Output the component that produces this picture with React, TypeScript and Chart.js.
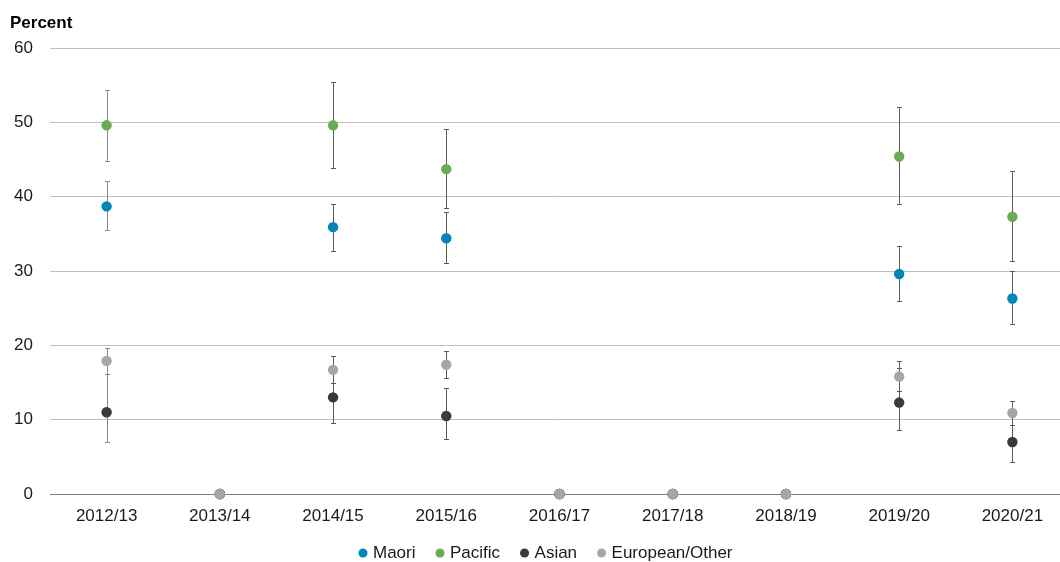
import { useEffect, useRef } from 'react';
import { Chart, registerables } from 'chart.js';

Chart.register(...registerables);

const categories = ['2012/13', '2013/14', '2014/15', '2015/16', '2016/17', '2017/18', '2018/19', '2019/20', '2020/21'];
const seriesNames = ['Maori', 'Pacific', 'Asian', 'European/Other'];

const maori = [38.7, 0, 35.9, 34.4, 0, 0, 0, 29.6, 26.3];
const maoriLow = [35.5, null, 32.7, 31.1, null, null, null, 26.0, 22.9];
const maoriHigh = [42.1, null, 39.0, 37.9, null, null, null, 33.4, 30.0];

const pacific = [49.6, 0, 49.6, 43.7, 0, 0, 0, 45.4, 37.3];
const pacificLow = [44.8, null, 43.8, 38.5, null, null, null, 39.0, 31.3];
const pacificHigh = [54.4, null, 55.4, 49.1, null, null, null, 52.0, 43.5];

const asian = [11.0, 0, 13.0, 10.5, 0, 0, 0, 12.3, 7.0];
const asianLow = [7.0, null, 9.5, 7.4, null, null, null, 8.6, 4.3];
const asianHigh = [16.2, null, 15.0, 14.2, null, null, null, 16.9, 9.3];

const european = [17.9, 0, 16.7, 17.4, 0, 0, 0, 15.8, 10.9];
const europeanLow = [16.2, null, 15.0, 15.6, null, null, null, 13.9, 9.3];
const europeanHigh = [19.7, null, 18.6, 19.2, null, null, null, 17.9, 12.5];

const yTicks = [0, 10, 20, 30, 40, 50, 60];

const seriesValues = [maori, pacific, asian, european];
const lows = [maoriLow, pacificLow, asianLow, europeanLow];
const highs = [maoriHigh, pacificHigh, asianHigh, europeanHigh];
const colors = ['#0087B5', '#6AAB55', '#393B36', '#A6A6A6'];
const errColors = ['#8a8a8a', '#5a5a5a', '#5a5a5a', '#5a5a5a', '#5a5a5a', '#5a5a5a', '#5a5a5a', '#5a5a5a', '#5a5a5a'];

const FONT = '"Liberation Sans", Arial, Helvetica, sans-serif';

const errorBarPlugin = {
  id: 'errorBars',
  beforeDatasetsDraw(chart: any) {
    const { ctx } = chart;
    const xs = chart.scales.x;
    const ys = chart.scales.y;
    ctx.save();
    lows.forEach((lo, di) => {
      const hi = highs[di];
      lo.forEach((l, i) => {
        const h = hi[i];
        if (l == null || h == null) return;
        const px = Math.round(xs.getPixelForValue(i)) + 0.5;
        const y1 = Math.round(ys.getPixelForValue(l)) + 0.5;
        const y2 = Math.round(ys.getPixelForValue(h)) + 0.5;
        ctx.strokeStyle = errColors[i];
        ctx.lineWidth = 1;
        ctx.beginPath();
        ctx.moveTo(px, y1);
        ctx.lineTo(px, y2);
        ctx.moveTo(px - 2.5, y1);
        ctx.lineTo(px + 2.5, y1);
        ctx.moveTo(px - 2.5, y2);
        ctx.lineTo(px + 2.5, y2);
        ctx.stroke();
      });
    });
    ctx.restore();
  },
};

const titlePlugin = {
  id: 'percentTitle',
  afterDraw(chart: any) {
    const { ctx } = chart;
    ctx.save();
    ctx.font = `bold 17px ${FONT}`;
    ctx.fillStyle = '#000';
    ctx.textAlign = 'left';
    ctx.textBaseline = 'alphabetic';
    ctx.fillText('Percent', 10, 28);
    ctx.restore();
  },
};

export default function App() {
  const ref = useRef<HTMLCanvasElement>(null);

  useEffect(() => {
    document.body.style.margin = '0';
    const chart = new Chart(ref.current as HTMLCanvasElement, {
      type: 'line',
      data: {
        labels: categories,
        datasets: seriesValues.map((vals, i) => ({
          label: seriesNames[i],
          data: vals,
          order: seriesValues.length - 1 - i,
          showLine: false,
          backgroundColor: colors[i],
          borderColor: colors[i],
          pointBackgroundColor: colors[i],
          pointBorderColor: colors[i],
          pointBorderWidth: 0,
          borderWidth: 0,
          pointRadius: 5.2,
          pointHoverRadius: 5.2,
          clip: false as any,
        })),
      },
      options: {
        responsive: false,
        animation: false,
        devicePixelRatio: 1,
        layout: { padding: { left: 14, top: 48, right: 0, bottom: 0 } },
        plugins: {
          legend: {
            position: 'bottom',
            maxHeight: 40.5,
            labels: {
              usePointStyle: true,
              pointStyle: 'circle',
              boxWidth: 3,
              boxHeight: 6.4,
              padding: 23,
              color: '#1a1a1a',
              font: { family: FONT, size: 17 },
              sort: (a: any, b: any) => a.datasetIndex - b.datasetIndex,
            },
          },
          tooltip: { enabled: false },
          title: { display: false },
        },
        scales: {
          x: {
            type: 'category',
            offset: true,
            grid: { display: false, drawTicks: false },
            border: { display: true, color: '#7f7f7f', width: 1 },
            ticks: {
              color: '#1a1a1a',
              padding: 12.2,
              maxRotation: 0,
              autoSkip: false,
              font: { family: FONT, size: 17 },
            },
            afterFit: (scale: any) => {
              scale.height = 27.5;
            },
          },
          y: {
            type: 'linear',
            min: 0,
            max: 60,
            afterBuildTicks: (scale: any) => {
              scale.ticks = yTicks.map((v) => ({ value: v }));
            },
            grid: {
              color: (c: any) => (c.tick && c.tick.value === 0 ? '#7f7f7f' : '#bfbfbf'),
              lineWidth: 1,
              drawTicks: false,
            },
            border: { display: false },
            ticks: {
              color: '#1a1a1a',
              padding: 17,
              font: { family: FONT, size: 17 },
            },
            afterFit: (scale: any) => {
              scale.width = 36;
            },
          },
          y2: {
            type: 'linear',
            position: 'right',
            display: true,
            grid: { display: false, drawTicks: false },
            border: { display: false },
            ticks: { display: false },
            afterFit: (scale: any) => {
              scale.width = 11;
            },
          },
        },
      },
      plugins: [errorBarPlugin, titlePlugin],
    } as any);
    return () => {
      chart.destroy();
    };
  }, []);

  return (
    <div
      style={{
        position: 'absolute',
        left: 0,
        top: 0,
        width: 1060,
        height: 562,
        overflow: 'hidden',
        background: '#fff',
      }}
    >
      <canvas ref={ref} width={1080} height={562} style={{ display: 'block' }} />
    </div>
  );
}
